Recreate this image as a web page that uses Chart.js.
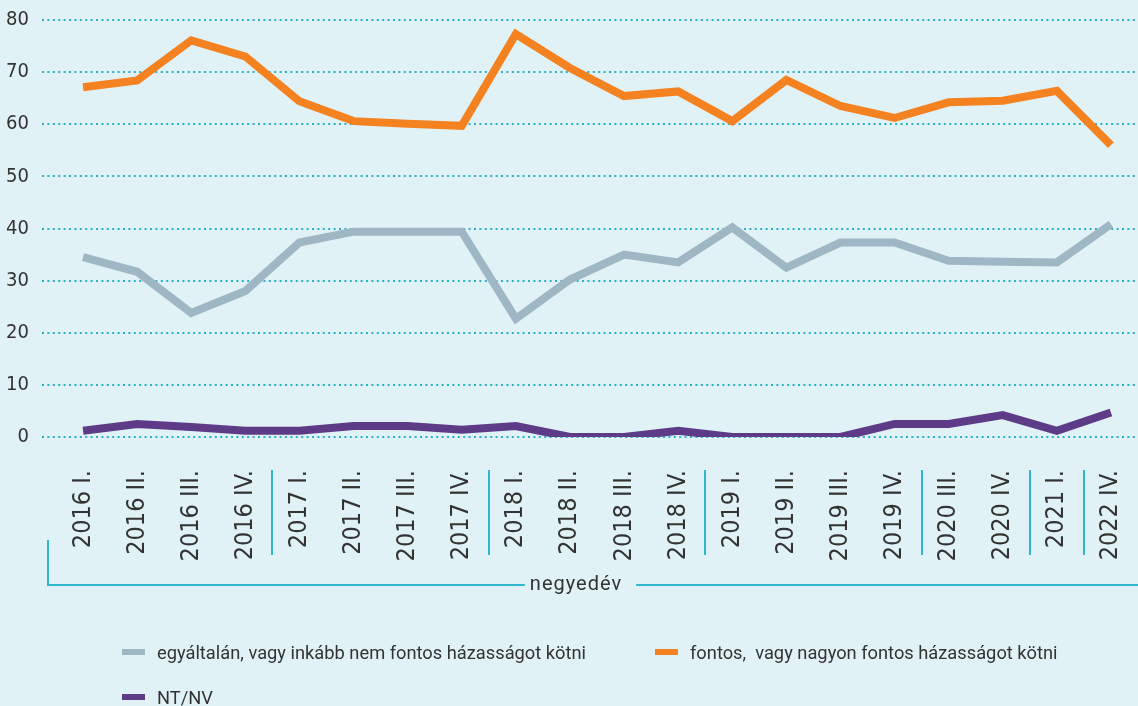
<!DOCTYPE html>
<html>
<head>
<meta charset="utf-8">
<script src="https://cdn.jsdelivr.net/npm/chart.js@4.4.0/dist/chart.umd.min.js"></script>
<style>
  body { margin: 0; background: #e1f2f7; }
  #wrap { position: relative; width: 1138px; height: 706px; }
  #chart { position: absolute; left: 0; top: 0; }
  #legend {
    position: absolute; left: 122px; top: 640px;
    display: grid; grid-template-columns: 533px auto; row-gap: 21px;
    font-family: Roboto, sans-serif; font-size: 18.3px; color: #333;
  }
  .item { display: flex; align-items: center; white-space: pre; height: 24px; }
  .box { width: 23px; height: 6px; margin-right: 12px; }
</style>
</head>
<body>
<div id="wrap">
  <canvas id="chart" width="1138" height="706"></canvas>
  <div id="legend"></div>
</div>
<script>
const labels = ['2016 I.', '2016 II.', '2016 III.', '2016 IV.', '2017 I.', '2017 II.', '2017 III.', '2017 IV.',
    '2018 I.', '2018 II.', '2018 III.', '2018 IV.', '2019 I.', '2019 II.', '2019 III.', '2019 IV.',
    '2020 III.', '2020 IV.', '2021 I.', '2022 IV.'];
const nemFontos = [34.5, 31.7, 23.8, 28.0, 37.3, 39.4, 39.4, 39.4, 22.7, 30.2, 35.0, 33.5, 40.2, 32.5, 37.3, 37.3, 33.8, 33.6, 33.5, 40.8];
const fontos = [67.1, 68.4, 76.1, 73.0, 64.4, 60.6, 60.1, 59.7, 77.3, 70.8, 65.4, 66.3, 60.6, 68.5, 63.5, 61.2, 64.2, 64.5, 66.4, 56.0];
const ntnv = [1.2, 2.5, 1.9, 1.2, 1.2, 2.1, 2.1, 1.4, 2.1, 0, 0, 1.2, 0, 0, 0, 2.5, 2.5, 4.2, 1.2, 4.7];
const seriesNames = ['egyáltalán, vagy inkább nem fontos házasságot kötni', 'fontos,  vagy nagyon fontos házasságot kötni', 'NT/NV'];
const colors = ['#9fb6c5', '#f58220', '#5e3b86'];
const axisTitle = 'negyedév';

const narrow = '"Liberation Sans Narrow", "DejaVu Sans Condensed", sans-serif';
const teal = '#2fb8cc';

// dotted grid, year separators and the bracket with the axis title
const decor = {
    id: 'decor',
    beforeDatasetsDraw(chart) {
        const { ctx, scales: { y } } = chart;
        ctx.save();
        ctx.strokeStyle = '#29b0c8';
        ctx.lineWidth = 2;
        ctx.setLineDash([2, 3.4]);
        y.ticks.forEach(t => {
            const py = Math.round(y.getPixelForValue(t.value));
            ctx.beginPath();
            ctx.moveTo(42, py);
            ctx.lineTo(chart.width, py);
            ctx.stroke();
        });
        ctx.restore();
    },
    afterDraw(chart) {
        const { ctx, scales: { x }, chartArea } = chart;
        const b = chartArea.bottom;
        ctx.save();
        ctx.strokeStyle = teal;
        ctx.lineWidth = 2;
        for (let i = 1; i < labels.length; i++) {
            if (labels[i].slice(0, 4) !== labels[i - 1].slice(0, 4)) {
                const px = Math.round((x.getPixelForValue(i - 1) + x.getPixelForValue(i)) / 2);
                ctx.beginPath();
                ctx.moveTo(px, b + 33);
                ctx.lineTo(px, b + 118);
                ctx.stroke();
            }
        }
        // bracket
        const by = b + 148;
        const cx = 576;
        ctx.font = '20px Roboto, sans-serif';
        ctx.letterSpacing = '1px';
        const tw = ctx.measureText(axisTitle).width;
        ctx.beginPath();
        ctx.moveTo(48, b + 103);
        ctx.lineTo(48, by);
        ctx.lineTo(cx - tw / 2 - 5, by);
        ctx.moveTo(cx + tw / 2 + 14, by);
        ctx.lineTo(chart.width, by);
        ctx.stroke();
        ctx.fillStyle = '#333';
        ctx.textAlign = 'center';
        ctx.textBaseline = 'middle';
        ctx.fillText(axisTitle, cx, by);
        ctx.restore();
    }
};

const data = [nemFontos, fontos, ntnv];
const ctx = document.getElementById('chart').getContext('2d');
const chart = new Chart(ctx, {
    type: 'line',
    data: {
        labels: labels,
        datasets: data.map((d, i) => ({
            label: seriesNames[i],
            data: d,
            borderColor: colors[i],
            backgroundColor: colors[i],
            borderWidth: 8,
            pointRadius: 0,
            tension: 0,
            borderJoinStyle: 'miter'
        }))
    },
    options: {
        responsive: false,
        animation: false,
        layout: { padding: { top: 20, bottom: 139, left: 0, right: 0 } },
        scales: {
            x: {
                offset: true,
                grid: { display: false, drawTicks: false },
                border: { display: false },
                ticks: {
                    autoSkip: false,
                    minRotation: 90,
                    maxRotation: 90,
                    padding: 33,
                    color: '#333',
                    font: { family: narrow, size: 25 }
                },
                afterFit(s) {
                    s.height = 130;
                    s.paddingLeft = 0;
                    s.paddingRight = 0;
                    s.paddingTop = 0;
                    s.paddingBottom = 0;
                }
            },
            y: {
                min: 0,
                max: 80,
                grid: { display: false, drawTicks: false },
                border: { display: false },
                ticks: {
                    stepSize: 10,
                    padding: 27,
                    color: '#333',
                    font: { family: narrow, size: 20 }
                },
                afterFit(s) {
                    s.width = 56;
                    s.paddingTop = 0;
                    s.paddingBottom = 0;
                }
            }
        },
        plugins: {
            legend: { display: false },
            tooltip: { enabled: false }
        }
    },
    plugins: [decor]
});

const legend = document.getElementById('legend');
seriesNames.forEach((name, i) => {
    const item = document.createElement('div');
    item.className = 'item';
    const box = document.createElement('span');
    box.className = 'box';
    box.style.background = colors[i];
    item.appendChild(box);
    item.appendChild(document.createTextNode(name));
    legend.appendChild(item);
});
</script>
</body>
</html>
